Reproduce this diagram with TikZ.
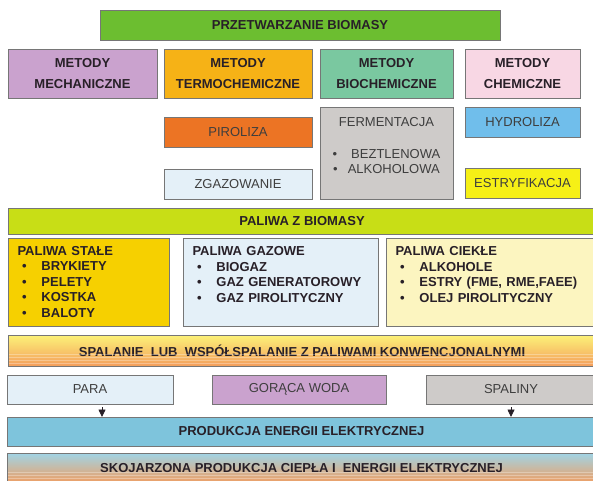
\documentclass[tikz,border=0pt]{standalone}
\usepackage{fontspec}
\setmainfont{Liberation Sans}
\usetikzlibrary{positioning,arrows.meta}

\definecolor{edge}{RGB}{118,118,118}
\definecolor{ink}{RGB}{40,32,40}
\definecolor{lead}{RGB}{62,62,62}
\definecolor{leaf}{RGB}{108,190,48}
\definecolor{lilac}{RGB}{202,162,206}
\definecolor{amber}{RGB}{246,178,22}
\definecolor{mint}{RGB}{122,200,160}
\definecolor{blush}{RGB}{248,215,228}
\definecolor{flame}{RGB}{236,116,36}
\definecolor{frost}{RGB}{228,240,248}
\definecolor{stone}{RGB}{206,203,201}
\definecolor{sky}{RGB}{112,190,235}
\definecolor{lemon}{RGB}{246,240,22}
\definecolor{lime}{RGB}{200,222,22}
\definecolor{gold}{RGB}{246,208,0}
\definecolor{cream}{RGB}{252,245,192}
\definecolor{water}{RGB}{126,196,220}

\newcommand{\itm}[1]{\makebox[24pt][l]{\hspace{4.5pt}\textbullet}#1}

\begin{document}
\begin{tikzpicture}[x=1pt,y=-1pt]
\tikzstyle{box}=[rectangle, draw=edge, line width=0.8pt, inner sep=0pt, outer sep=0pt, text=ink, align=center, font=\fontsize{13}{21}\selectfont\bfseries]
\tikzstyle{plain}=[box, text=lead, font=\fontsize{13}{15.5}\selectfont]
\tikzstyle{listbox}=[box, anchor=north west, align=left, inner xsep=9.5pt, minimum height=88pt, font=\fontsize{13}{15.5}\selectfont\bfseries]
\tikzstyle{connect}=[-{Triangle[width=7pt,length=7.5pt]}, line width=0.8pt, draw=ink, shorten <=3pt]
\tikzstyle{stripe}=[white, opacity=0.3, line width=1pt]
\clip (0,0) rectangle (593,480);

  \node[box, fill=leaf, minimum width=400pt, minimum height=30pt, anchor=north west] (przetw) at (100,10) {PRZETWARZANIE BIOMASY};
  \node[box, fill=lilac, minimum width=149pt, minimum height=49pt, anchor=north west] (mech) at (8,49) {METODY\\MECHANICZNE};
  \node[box, fill=amber, minimum width=148pt, minimum height=49pt] (termo) [right=7pt of mech] {METODY\\TERMOCHEMICZNE};
  \node[box, fill=mint, minimum width=133pt, minimum height=49pt] (bio) [right=8pt of termo] {METODY\\BIOCHEMICZNE};
  \node[box, fill=blush, minimum width=115pt, minimum height=49pt] (chem) [right=12pt of bio] {METODY\\CHEMICZNE};

  \node[plain, fill=flame, minimum width=148pt, minimum height=30pt] (piro) [below=19pt of termo] {PIROLIZA};
  \node[plain, fill=frost, minimum width=148pt, minimum height=30pt] (zgaz) [below=22pt of piro] {ZGAZOWANIE};
  \node[plain, fill=stone, minimum width=133pt, minimum height=92pt] (ferm) [below=9pt of bio] {FERMENTACJA\\[16.5pt]\textbullet\hspace{14pt}BEZTLENOWA\\\textbullet\hspace{10pt}ALKOHOLOWA\\\mbox{}};
  \node[plain, fill=sky, minimum width=115pt, minimum height=30pt] (hydro) [below=9pt of chem] {HYDROLIZA};
  \node[plain, fill=lemon, minimum width=115pt, minimum height=30pt] (estr) [below=31pt of hydro] {ESTRYFIKACJA};

  \node[box, fill=lime, minimum width=588pt, minimum height=26pt, anchor=north west] (paliwa) at (8,208) {PALIWA Z BIOMASY};
  \node[listbox, fill=gold, text width=142pt] (stale) at (8,238) {PALIWA STAŁE\\\itm{BRYKIETY}\\\itm{PELETY}\\\itm{KOSTKA}\\\itm{BALOTY}};
  \node[listbox, fill=frost, text width=176pt] (gazowe) [right=14pt of stale] {PALIWA GAZOWE\\\itm{BIOGAZ}\\\itm{GAZ GENERATOROWY}\\\itm{GAZ PIROLITYCZNY}\\\mbox{}};
  \node[listbox, fill=cream, text width=191pt] (ciekle) [right=8pt of gazowe] {PALIWA CIEKŁE\\\itm{ALKOHOLE}\\\itm{ESTRY (FME, RME,FAEE)}\\\itm{OLEJ PIROLITYCZNY}\\\mbox{}};

  \node[box, top color={rgb,255:red,252;green,242;blue,120}, middle color={rgb,255:red,250;green,224;blue,60}, bottom color={rgb,255:red,244;green,158;blue,92}, minimum width=588pt, minimum height=31pt, anchor=north west] (spalanie) at (8,335) {SPALANIE\ \ LUB\ \ WSPÓŁSPALANIE Z PALIWAMI KONWENCJONALNYMI};
  \foreach \y in {354.5,357.5,...,364} \draw[stripe] (8.5,\y) -- (596,\y);

  \node[plain, fill=frost, minimum width=166pt, minimum height=29pt, anchor=north west] (para) at (7,375) {PARA};
  \node[plain, fill=lilac, minimum width=174pt, minimum height=29pt] (woda) [right=39pt of para] {GORĄCA WODA};
  \node[plain, fill=stone, minimum width=170pt, minimum height=29pt] (spaliny) [right=40pt of woda] {SPALINY};

  \node[box, fill=water, minimum width=589pt, minimum height=29pt, anchor=north west] (prod) at (7,417) {PRODUKCJA ENERGII ELEKTRYCZNEJ};
  \node[box, top color={rgb,255:red,160;green,212;blue,230}, middle color={rgb,255:red,236;green,226;blue,214}, bottom color={rgb,255:red,240;green,158;blue,98}, minimum width=589pt, minimum height=30pt, anchor=north west] (skoj) at (7,453) {SKOJARZONA PRODUKCJA CIEPŁA I\ \ ENERGII ELEKTRYCZNEJ};
  \foreach \y in {472.5,475.5,478.5} \draw[stripe] (7.5,\y) -- (596,\y);

  \coordinate (paraout) at ([xshift=12pt]para.south);
  \path (paraout) edge [connect] (paraout |- prod.north)
        (spaliny.south) edge [connect] (spaliny.south |- prod.north);
\end{tikzpicture}
\end{document}
